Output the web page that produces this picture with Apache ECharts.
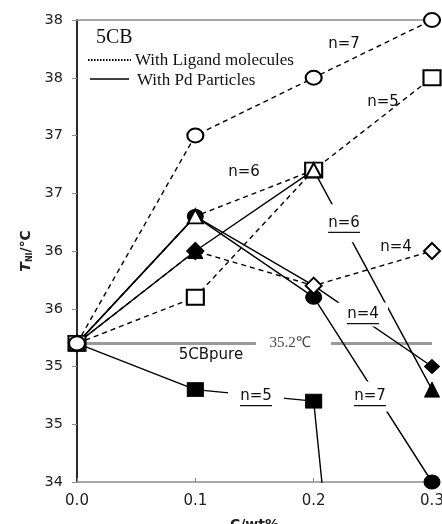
<!DOCTYPE html>
<html><head><meta charset="utf-8">
<script src="https://cdn.jsdelivr.net/npm/echarts@6/dist/echarts.min.js"></script>
<style>html,body{margin:0;padding:0;background:#fff}#c{width:442px;height:524px}</style>
</head><body><div id="c"></div>
<script>
// ---- data ----
const concentrations = [0.0, 0.1, 0.2, 0.3];
const ligandN4 = [35.2, 36.0, 35.7, 36.0];
const ligandN5 = [35.2, 35.6, 36.7, 37.5];
const ligandN6 = [35.2, 36.3, 36.7, null];
const ligandN7 = [35.2, 37.0, 37.5, 38.0];
const pdN4 = [35.2, 36.3, 35.7, 35.0];
const pdN5 = [35.2, 34.8, 34.7, 24.6];
const pdN6 = [35.2, 36.0, 36.7, 34.8];
const pdN7 = [35.2, 36.3, 35.6, 34.0];
const pureTNI = 35.2;
const yTickLabels = ['34', '35', '35', '36', '36', '37', '37', '38', '38'];
const xTickLabels = ['0.0', '0.1', '0.2', '0.3'];

const plainLabels = [
  {text: 'n=7', at: [0.2257, 37.79]},
  {text: 'n=5', at: [0.2586, 37.29]},
  {text: 'n=6', at: [0.1411, 36.68]},
  {text: 'n=4', at: [0.2696, 36.03]}
];
const underlinedLabels = [
  {text: 'n=6', at: [0.2257, 36.24], padX: 6, padY: 19},
  {text: 'n=4', at: [0.2417, 35.45], padX: 9, padY: 12},
  {text: 'n=5', at: [0.1513, 34.74], padX: 12, padY: 13},
  {text: 'n=7', at: [0.2476, 34.74], padX: 9, padY: 15}
];

function pts(vals) {
  const out = [];
  concentrations.forEach((c, i) => { if (vals[i] != null) out.push([c, vals[i]]); });
  return out;
}

const SANS = 'DejaVu Sans';
const SERIF = 'Liberation Serif';

const defs = [
  {vals: pdN5, dashed: false, symbol: 'rect', filled: true, size: [16, 14]},
  {vals: pdN4, dashed: false, symbol: 'diamond', filled: true, size: [15, 14], hide: [1]},
  {vals: pdN6, dashed: false, symbol: 'triangle', filled: true, size: [15, 15]},
  {vals: pdN7, dashed: false, symbol: 'circle', filled: true, size: [16, 14]},
  {vals: ligandN5, dashed: true, symbol: 'rect', filled: false, size: [17, 15]},
  {vals: ligandN4, dashed: true, symbol: 'diamond', filled: false, size: [16, 16], fillIdx: [1]},
  {vals: ligandN6, dashed: true, symbol: 'triangle', filled: false, size: [15, 14]},
  {vals: ligandN7, dashed: true, symbol: 'circle', filled: false, size: [16, 14]}
];

const series = [];
series.push({
  type: 'line', data: [[0, pureTNI], [0.3, pureTNI]], symbol: 'none', z: 1,
  lineStyle: {color: '#9a9a9a', width: 3}, silent: true
});
defs.forEach(d => {
  series.push({
    type: 'line', data: pts(d.vals), symbol: 'none', z: 2, clip: true,
    lineStyle: {color: '#000', width: 1.4, type: d.dashed ? [5, 4] : 'solid'}
  });
});
defs.forEach(d => {
  const data = pts(d.vals).map((p, i) => {
    const item = {value: p};
    if (d.hide && d.hide.includes(i)) item.symbolSize = 0;
    if (d.fillIdx && d.fillIdx.includes(i)) item.itemStyle = {color: '#000'};
    return item;
  });
  series.push({
    type: 'scatter', data: data, symbol: d.symbol, symbolSize: d.size, z: 10, clip: true,
    itemStyle: d.filled ? {color: '#000', borderColor: '#000', borderWidth: 1, opacity: 1}
                        : {color: '#fff', borderColor: '#000', borderWidth: 2, opacity: 1}
  });
});

const chart = echarts.init(document.getElementById('c'), null, {renderer: 'canvas'});
chart.setOption({
  animation: false,
  backgroundColor: '#fff',
  grid: {left: 77, right: 10, top: 20, bottom: 42, containLabel: false, outerBoundsMode: 'none'},
  xAxis: [{
    type: 'value', min: 0, max: 0.3, interval: 0.1, position: 'bottom',
    axisLine: {lineStyle: {color: '#8c8c8c', width: 1.5}},
    axisTick: {inside: true, length: 4, lineStyle: {color: '#8c8c8c'}},
    axisLabel: {fontFamily: SANS, fontSize: 15, color: '#222', margin: 12,
      formatter: (v, i) => xTickLabels[i] != null ? xTickLabels[i] : v.toFixed(1)},
    splitLine: {show: false},
    name: 'C/wt%', nameLocation: 'middle', nameGap: 36,
    nameTextStyle: {fontFamily: SANS, fontSize: 14, fontWeight: 'bold', color: '#222'}
  }, {
    type: 'value', min: 0, max: 0.3, position: 'top',
    axisLine: {lineStyle: {color: '#8c8c8c', width: 1.5}},
    axisTick: {show: false}, axisLabel: {show: false}, splitLine: {show: false}
  }],
  yAxis: [{
    type: 'value', min: 34, max: 38, interval: 0.5, position: 'left',
    axisLine: {show: true, lineStyle: {color: '#8c8c8c', width: 1.5}},
    axisTick: {show: true, inside: false, length: 5, lineStyle: {color: '#8c8c8c'}},
    axisLabel: {fontFamily: SANS, fontSize: 14.5, color: '#222', margin: 14,
      formatter: (v, i) => yTickLabels[i] != null ? yTickLabels[i] : String(Math.round(v))},
    splitLine: {show: false},
    name: '{t|T}{s|NI}{u|/℃}', nameLocation: 'middle', nameGap: 37, nameRotate: 90,
    nameTextStyle: {
      rich: {
        t: {fontFamily: SANS, fontSize: 14, fontWeight: 'bold', fontStyle: 'italic', color: '#222'},
        s: {fontFamily: SANS, fontSize: 8, fontWeight: 'bold', color: '#222', verticalAlign: 'bottom', padding: [6, 0, 0, 0]},
        u: {fontFamily: SANS, fontSize: 14, fontWeight: 'bold', color: '#222'}
      }
    }
  }, {
    type: 'value', min: 34, max: 38, position: 'right',
    axisLine: {show: true, lineStyle: {color: '#000', width: 1.5}},
    axisTick: {show: false}, axisLabel: {show: false}, splitLine: {show: false}
  }],
  series: series
});

// ---- annotations ----
const g = [];
const px = p => chart.convertToPixel({gridIndex: 0}, p);
plainLabels.forEach(l => {
  const [x, y] = px(l.at);
  g.push({type: 'text', x: x, y: y, z: 6, style: {text: l.text, fontFamily: SANS, fontSize: 15,
    fill: '#111', align: 'center', verticalAlign: 'middle'}});
});
underlinedLabels.forEach(l => {
  const [x, y] = px(l.at);
  const w = 32;
  g.push({type: 'rect', z: 5, shape: {x: x - w / 2 - l.padX, y: y - l.padY, width: w + 2 * l.padX, height: 2 * l.padY},
    style: {fill: '#fff'}});
  g.push({type: 'text', x: x, y: y, z: 6, style: {text: l.text, fontFamily: SANS, fontSize: 15,
    fill: '#111', align: 'center', verticalAlign: 'middle'}});
  g.push({type: 'line', z: 6, shape: {x1: x - w / 2, y1: y + 9, x2: x + w / 2, y2: y + 9},
    style: {stroke: '#111', lineWidth: 1.2}});
});
{
  const [x, y] = px([0.18, pureTNI]);
  g.push({type: 'rect', z: 1.5, shape: {x: x - 34, y: y - 4, width: 75, height: 8}, style: {fill: '#fff'}});
  g.push({type: 'text', x: x, y: y, z: 6, style: {text: '35.2℃', fontFamily: SERIF, fontSize: 15,
    fill: '#444', align: 'center', verticalAlign: 'middle'}});
  const [x2, y2] = px([0.1132, 35.1]);
  g.push({type: 'text', x: x2, y: y2, z: 6, style: {text: '5CBpure', fontFamily: SANS, fontSize: 15,
    fill: '#111', align: 'center', verticalAlign: 'middle'}});
}
g.push({type: 'text', x: 96, y: 38, z: 6, style: {text: '5CB', fontFamily: SERIF, fontSize: 20, fill: '#111', verticalAlign: 'middle'}});
g.push({type: 'line', z: 6, shape: {x1: 88, y1: 60, x2: 131, y2: 60}, style: {stroke: '#000', lineWidth: 2, lineDash: [1.5, 1.5]}});
g.push({type: 'text', x: 135, y: 61, z: 6, style: {text: 'With Ligand molecules', fontFamily: SERIF, fontSize: 17, fill: '#111', verticalAlign: 'middle'}});
g.push({type: 'line', z: 6, shape: {x1: 90, y1: 79, x2: 129, y2: 79}, style: {stroke: '#000', lineWidth: 1.3}});
g.push({type: 'text', x: 137, y: 81, z: 6, style: {text: 'With Pd Particles', fontFamily: SERIF, fontSize: 17, fill: '#111', verticalAlign: 'middle'}});

chart.setOption({graphic: g});
</script></body></html>
